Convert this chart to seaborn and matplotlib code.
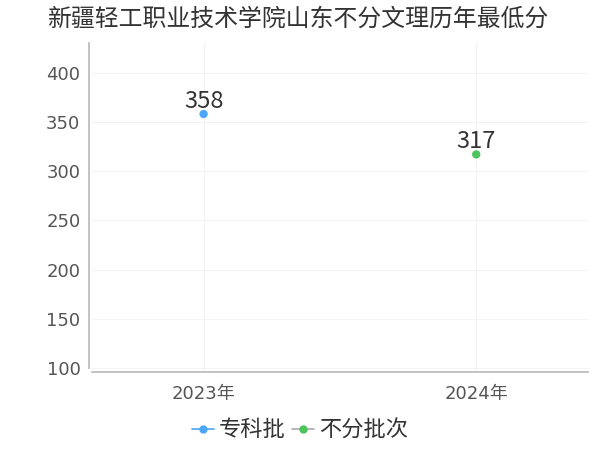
import matplotlib
matplotlib.use("Agg")
import matplotlib.pyplot as plt
from matplotlib.lines import Line2D
import seaborn as sns
import pandas as pd

title = "新疆轻工职业技术学院山东不分文理历年最低分"
years = ["2023年", "2024年"]
series_names = ["专科批", "不分批次"]
series_years = ["2023年", "2024年"]
series_values = [358, 317]
colors = ["#4da6f5", "#4cc55c"]
yticks = [100, 150, 200, 250, 300, 350, 400]

sns.set_theme(style="white")
plt.rcParams['font.family'] = ['DejaVu Sans', 'Noto Sans CJK SC']
cjk_family = ['Noto Sans CJK SC', 'DejaVu Sans']

df = pd.DataFrame({"year": series_years, "value": series_values, "series": series_names})
df["year"] = pd.Categorical(df["year"], categories=years)
df["xpos"] = df["year"].cat.codes

fig = plt.figure(figsize=(6, 4.5), dpi=100)
ax = fig.add_axes([0.153, 1 - 372 / 450, 0.827, (372 - 43) / 450])

sns.scatterplot(data=df, x="xpos", y="value", hue="series", palette=colors,
                s=36, edgecolor="none", ax=ax, legend=False, zorder=3)

for _, r in df.iterrows():
    ax.annotate(str(r["value"]), (r["xpos"], r["value"]), xytext=(0, 4.5),
                textcoords="offset points", ha="center", va="baseline",
                fontsize=17, color="#333333", family=cjk_family)

ax.set_xlim(-0.41, 1.41)
ax.set_ylim(96.3, 430)
ax.set_xticks(range(len(years)))
ax.set_xticklabels(years)
ax.set_yticks(yticks)
ax.set_xlabel("")
ax.set_ylabel("")
ax.tick_params(axis="both", labelsize=13, labelcolor="#555555", length=3, width=0.8,
               color="#bbbbbb", pad=3)
ax.tick_params(axis="x", pad=6)

ax.grid(True, color="#f3f3f3", linewidth=0.8)
ax.set_axisbelow(True)
for s in ["top", "right"]:
    ax.spines[s].set_visible(False)
ax.spines["left"].set_color("#bbbbbb")
ax.spines["bottom"].set_color("#bbbbbb")
ax.spines["left"].set_position(("outward", 2.2))
ax.spines["left"].set_bounds(100, 430)
ax.axvline(1.41, color="#f3f3f3", linewidth=0.8, zorder=0)

fig.text(0.078, 1 - 19 / 450, title, fontsize=17.2, color="#333333", ha="left", va="center",
         family=cjk_family)

handles = [
    Line2D([0], [0], color=colors[0], marker="o", markersize=5, linewidth=1.2),
    Line2D([0], [0], color="#aaaaaa", marker="o", markersize=5, linewidth=1.2,
           markerfacecolor=colors[1], markeredgecolor=colors[1]),
]
fig.legend(handles, series_names, loc="center", bbox_to_anchor=(0.5, 1 - 430 / 450), ncol=2,
           frameon=False, handlelength=1.0, handletextpad=0.2, columnspacing=0.3,
           labelcolor="#333333", prop={"family": cjk_family, "size": 16})

fig.savefig("out.png", dpi=100)
